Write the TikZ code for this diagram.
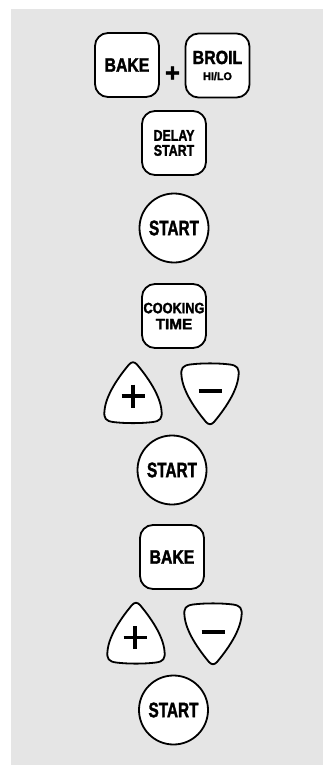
\documentclass[tikz,border=0pt]{standalone}
\usepackage{fontspec}
\usepackage{graphicx}
\setmainfont{Liberation Sans}[BoldFeatures={FakeBold=2}]
\newcommand{\kt}[2]{\scalebox{#1}[1]{#2}}
\tikzset{
  x=1pt, y=-1pt,
  keyline/.style={draw=black, line width=1.8pt, fill=white},
  keybox/.style={keyline, rectangle, rounded corners=13pt, minimum width=64pt, minimum height=64pt, inner sep=0pt, align=center},
  keycirc/.style={keyline, circle, minimum size=69pt, inner sep=0pt, font=\bfseries\fontsize{21}{21}\selectfont},
  signline/.style={line width=3.6pt, black},
  pluspad/.pic={
    \draw[keyline] (-4,-28) .. controls (-1,-31) and (1,-31) .. (4,-28)
      .. controls (14,-16) and (27,2) .. (28.5,18)
      .. controls (29.5,26) and (27,28.5) .. (20,29.5)
      .. controls (8,31) and (-8,31) .. (-20,29.5)
      .. controls (-27,28.5) and (-29.5,26) .. (-28.5,18)
      .. controls (-27,2) and (-14,-16) .. (-4,-28) -- cycle;
  }
}
\begin{document}
\begin{tikzpicture}
\useasboundingbox (0,0) rectangle (323,765);
\fill[gray!20] (11,9) rectangle (323,765);

% BAKE + BROIL
\node[keybox, font=\bfseries\fontsize{19.5}{19.5}\selectfont] (bake1) at (127,65) {\kt{0.81}{BAKE}};
\node[font=\bfseries\fontsize{25}{25}\selectfont, inner sep=0pt] (plusA) at (172.5,74) {+};
\node[keybox, font=\bfseries\fontsize{19}{16}\selectfont] (broil) at (217.5,65.5)
  {\kt{0.84}{BROIL}\\\kt{0.98}{\fontsize{11}{11}\selectfont HI/LO}};

% DELAY START
\node[keybox, font=\bfseries\fontsize{15.5}{15}\selectfont] (delay) at (174,143) {\kt{0.8}{DELAY}\\\kt{0.8}{START}};

% START 1
\node[keycirc] (start1) at (174,228) {\kt{0.73}{START}};

% COOKING TIME
\node[keybox, font=\bfseries\fontsize{15}{16}\selectfont] (cook) at (174,316) {\kt{0.85}{COOKING}\\\kt{1.02}{TIME}};

% + / - pads 1
\pic at (133,392.5) {pluspad};
\draw[signline] (121.5,396) -- (144.5,396) (133,384.5) -- (133,407.5);
\pic[yscale=-1] at (210,394) {pluspad};
\draw[signline, line width=4pt] (198.5,391) -- (221.5,391);

% START 2
\node[keycirc] (start2) at (172,470) {\kt{0.73}{START}};

% BAKE 2
\node[keybox, font=\bfseries\fontsize{19.5}{19.5}\selectfont] (bake2) at (172,557) {\kt{0.81}{BAKE}};

% + / - pads 2
\pic at (136,633) {pluspad};
\draw[signline] (123.5,637.5) -- (146.5,637.5) (135,626) -- (135,649);
\pic[yscale=-1] at (213,634) {pluspad};
\draw[signline, line width=4pt] (201.5,632) -- (224.5,632);

% START 3
\node[keycirc] (start3) at (173.5,710) {\kt{0.73}{START}};
\end{tikzpicture}
\end{document}
